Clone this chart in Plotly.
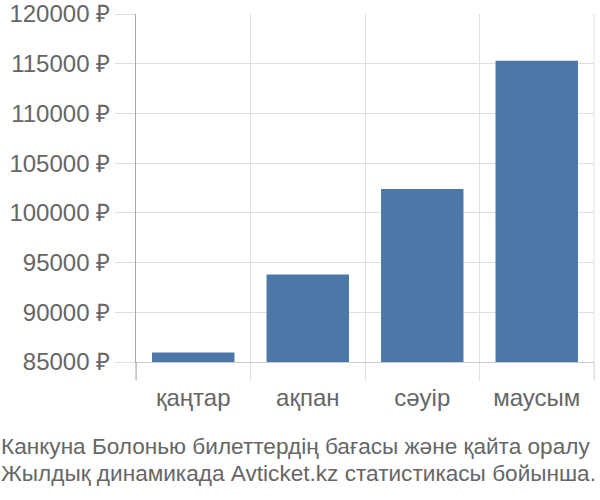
import plotly.graph_objects as go

categories = ["қаңтар", "ақпан", "сәуір", "маусым"]
prices = [85950, 93800, 102400, 115300]
y_ticks = [85000, 90000, 95000, 100000, 105000, 110000, 115000, 120000]
caption_lines = [
    "Канкуна Болонью билеттердің бағасы және қайта оралу",
    "Жылдық динамикада Avticket.kz статистикасы бойынша.",
]

FONT = "Liberation Sans, Arial, sans-serif"
TEXT = "#666666"
GRID = "#e0e0e0"
TICK_SIZE = 24
CAPTION_SIZE = 22.6

fig = go.Figure(
    go.Bar(
        x=categories,
        y=[p - 85000 for p in prices],
        base=85000,
        width=0.72,
        marker=dict(color="#4c78a8", line=dict(width=0)),
        hoverinfo="skip",
    )
)

fig.update_layout(
    template="none",
    width=600,
    height=500,
    margin=dict(l=136, r=6, t=14, b=138, pad=0),
    paper_bgcolor="white",
    plot_bgcolor="white",
    showlegend=False,
    font=dict(family=FONT, color=TEXT, size=TICK_SIZE),
    xaxis=dict(
        type="category",
        automargin=False,
        tickson="boundaries",
        showgrid=True,
        gridcolor=GRID,
        gridwidth=1,
        ticks="outside",
        ticklen=18,
        tickcolor=GRID,
        tickwidth=1,
        ticklabelstandoff=14,
        showline=True,
        linecolor="#cccccc",
        linewidth=1,
        tickfont=dict(size=TICK_SIZE, color=TEXT, family=FONT),
        zeroline=False,
    ),
    yaxis=dict(
        automargin=False,
        range=[85000, 120000],
        tickvals=y_ticks,
        ticktext=[f"{v} ₽" for v in y_ticks],
        showgrid=True,
        gridcolor=GRID,
        gridwidth=1,
        ticks="outside",
        ticklen=20,
        tickcolor=GRID,
        tickwidth=1,
        showline=True,
        linecolor="#aaaaaa",
        linewidth=1,
        zeroline=False,
        tickfont=dict(size=TICK_SIZE, color=TEXT, family=FONT),
    ),
    shapes=[
        dict(
            type="line",
            xref="paper",
            yref="paper",
            x0=0,
            x1=0,
            y0=-18 / 348,
            y1=0,
            line=dict(color="#aaaaaa", width=1),
        ),
        dict(
            type="line",
            xref="paper",
            yref="paper",
            x0=1,
            x1=1,
            y0=-18 / 348,
            y1=1,
            line=dict(color=GRID, width=1),
            layer="below",
        ),
    ],
)

for i, line in enumerate(caption_lines):
    fig.add_annotation(
        text=line,
        xref="paper",
        yref="paper",
        x=(-1 - 136) / 458,
        y=-(84 + 27 * i) / 348,
        xanchor="left",
        yanchor="middle",
        showarrow=False,
        font=dict(size=CAPTION_SIZE, color=TEXT, family=FONT),
    )

fig.write_html(
    "out.html",
    config={"displayModeBar": False},
    post_script="document.body.style.margin='0';document.body.style.padding='0';",
)
